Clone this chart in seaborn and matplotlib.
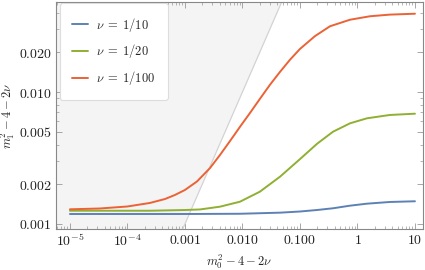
import numpy as np
import pandas as pd
import matplotlib
matplotlib.use("Agg")
import matplotlib.pyplot as plt
import matplotlib.ticker as mticker
import seaborn as sns

# values (log-log axes)
x_red = [1e-5, 3.3e-5, 1e-4, 2.46e-4, 4.5e-4, 6.7e-4, 1e-3, 1.62e-3, 2.72e-3, 4.06e-3,
         6.07e-3, 9.06e-3, 0.0135, 0.0201, 0.0301, 0.0449, 0.067, 0.1, 0.182, 0.333,
         0.741, 1.65, 3.67, 10]
y_red = [0.001292, 0.00131, 0.001357, 0.001443, 0.001546, 0.001659, 0.00181, 0.00210,
         0.00265, 0.00333, 0.00425, 0.00545, 0.00693, 0.00887, 0.01135, 0.0142, 0.01755,
         0.0212, 0.0265, 0.0315, 0.0353, 0.0375, 0.0386, 0.0392]

x_green = [1e-5, 2.46e-4, 1e-3, 1.82e-3, 4.06e-3, 9.06e-3, 0.0201, 0.0449, 0.1, 0.198,
           0.375, 0.741, 1.46, 3.67, 10]
y_green = [0.00126, 0.00126, 0.001276, 0.001288, 0.001352, 0.001475, 0.001757, 0.00228,
           0.0031, 0.00405, 0.0050, 0.00579, 0.00632, 0.0067, 0.00685]

x_blue = [1e-5, 1e-3, 9.06e-3, 0.0449, 0.1, 0.198, 0.375, 0.741, 1.46, 3.67, 10]
y_blue = [0.00119, 0.00119, 0.001195, 0.001218, 0.001243, 0.001276, 0.001315, 0.001376,
          0.001425, 0.001468, 0.001486]

labels = [r"$\nu\;=\;1/10$", r"$\nu\;=\;1/20$", r"$\nu\;=\;1/100$"]
colors = ["#5E81B5", "#8FB032", "#EB6235"]

xlim = (5.72e-6, 13.8)
ylim = (0.000916, 0.0481)

df = pd.concat([
    pd.DataFrame({"x": x_blue, "y": y_blue, "nu": labels[0]}),
    pd.DataFrame({"x": x_green, "y": y_green, "nu": labels[1]}),
    pd.DataFrame({"x": x_red, "y": y_red, "nu": labels[2]}),
])

sns.set_style("ticks")
plt.rcParams["mathtext.fontset"] = "cm"
plt.rcParams["font.family"] = ["DejaVu Serif"]

fig = plt.figure(figsize=(4.25, 2.7), dpi=100)
ax = fig.add_axes([56 / 425, 41 / 270, 367 / 425, 227 / 270])
ax.set_xscale("log")
ax.set_yscale("log")

# shaded region y > x
ax.fill_between(list(xlim), list(xlim), ylim[1], color="#f4f4f4", lw=0, zorder=0)
ax.plot(list(xlim), list(xlim), color="#d3d3d3", lw=0.9, zorder=1)

sns.lineplot(data=df, x="x", y="y", hue="nu", palette=colors, lw=1.4, ax=ax,
             sort=False, zorder=3)

ax.set_xlim(*xlim)
ax.set_ylim(*ylim)

xt = [1e-5, 1e-4, 1e-3, 1e-2, 1e-1, 1, 10]
xtl = [r"$10^{-5}$", r"$10^{-4}$", r"$0.001$", r"$0.010$", r"$0.100$", r"$1$", r"$10$"]
yt = [0.001, 0.002, 0.005, 0.010, 0.020]
ytl = [r"$0.001$", r"$0.002$", r"$0.005$", r"$0.010$", r"$0.020$"]
ax.set_xticks(xt)
ax.set_xticklabels(xtl)
ax.set_yticks(yt)
ax.set_yticklabels(ytl)
ax.xaxis.set_minor_locator(mticker.LogLocator(base=10, subs=np.arange(2, 10), numticks=20))
ax.yaxis.set_minor_locator(mticker.LogLocator(base=10, subs=np.arange(2, 10), numticks=20))
ax.yaxis.set_minor_formatter(mticker.NullFormatter())
ax.xaxis.set_minor_formatter(mticker.NullFormatter())

ax.tick_params(which="both", direction="in", top=True, right=True, color="#999999",
               labelsize=10, labelcolor="#222222", pad=3)
ax.tick_params(which="major", length=4, width=0.6)
ax.tick_params(which="minor", length=2, width=0.5)
for s in ax.spines.values():
    s.set_color("#888888")
    s.set_linewidth(0.8)

ax.set_xlabel(r"$m_0^2 - 4 - 2\nu$", fontsize=9, labelpad=2)
ax.set_ylabel(r"$m_1^2 - 4 - 2\nu$", fontsize=9, labelpad=1)

leg = ax.legend(loc="upper left", bbox_to_anchor=(0.01, 0.995), borderaxespad=0,
                fontsize=9, handlelength=1.3, handletextpad=0.6, labelspacing=0.7,
                borderpad=1.0, frameon=True, fancybox=True, framealpha=1,
                facecolor="white", edgecolor="#dddddd", title=None)
leg.get_frame().set_linewidth(0.8)

fig.savefig("out.png", dpi=100)
